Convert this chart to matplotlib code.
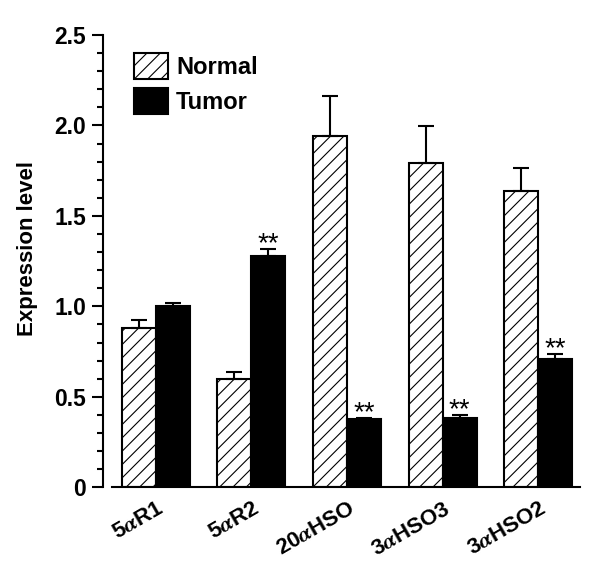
import numpy as np
import matplotlib
matplotlib.use('Agg')
import matplotlib.pyplot as plt
from matplotlib.patches import Patch
import matplotlib.transforms as mtransforms

# saved at dpi 80 so the '//' hatch comes out a bit denser; sizes below are
# written for 100 dpi and scaled by S
DPI = 80
S = 100 / DPI

plt.rcParams['font.family'] = ['Liberation Sans', 'DejaVu Sans']
plt.rcParams['font.weight'] = 'bold'
plt.rcParams['mathtext.fontset'] = 'stix'
plt.rcParams['hatch.linewidth'] = 0.8 * S

genes = ['5$\\alpha$R1', '5$\\alpha$R2', '20$\\alpha$HSO', '3$\\alpha$HSO3', '3$\\alpha$HSO2']
normal = [0.88, 0.60, 1.94, 1.79, 1.635]
normal_err = [0.043, 0.037, 0.22, 0.205, 0.13]
tumor = [1.0, 1.278, 0.375, 0.383, 0.708]
tumor_err = [0.016, 0.04, 0.008, 0.017, 0.026]
signif = ['', '**', '**', '**', '**']

fig = plt.figure(figsize=(600 / DPI, 569 / DPI), dpi=DPI)
ax = fig.add_axes([0.171, 0.1436, 0.796, 0.795])

x = np.arange(len(genes))
w = 0.356
zeros = np.zeros(len(x))
ekw = dict(ecolor='black', elinewidth=1.5 * S, capsize=6 * S, capthick=1.5 * S)

ax.bar(x, normal, width=-w, align='edge', color='white', edgecolor='black',
       hatch='//', linewidth=1.5 * S, yerr=[zeros, normal_err], error_kw=ekw)
ax.bar(x, tumor, width=w, align='edge', color='black', edgecolor='black',
       linewidth=1.5 * S, yerr=[zeros, tumor_err], error_kw=ekw)

for i, s in enumerate(signif):
    if s:
        ax.annotate(s, (x[i] + w / 2, tumor[i] + tumor_err[i]), xytext=(0, -1.5 * S),
                    textcoords='offset points', ha='center', va='baseline',
                    fontsize=20 * S, fontweight='normal')

ax.set_xlim(-0.558, 4.44)
ax.set_ylim(0, 2.5)
ax.spines['top'].set_visible(False)
ax.spines['right'].set_visible(False)
ax.spines['left'].set_linewidth(1.5 * S)
ax.spines['bottom'].set_linewidth(1.5 * S)
ax.spines['bottom'].set_bounds(-0.464, 4.44)

ax.set_yticks([0, 0.5, 1.0, 1.5, 2.0, 2.5])
ax.set_yticklabels(['0', '0.5', '1.0', '1.5', '2.0', '2.5'])
ax.set_yticks(np.arange(0, 2.51, 0.1), minor=True)
ax.tick_params(axis='y', which='major', length=8 * S, width=1.5 * S, labelsize=16.5 * S, pad=4 * S)
ax.tick_params(axis='y', which='minor', length=4.3 * S, width=1.5 * S)

ax.set_xticks(x)
ax.set_xticklabels(genes, rotation=30, ha='right', rotation_mode='anchor', fontsize=16 * S)
ax.tick_params(axis='x', length=0, pad=8 * S)
offset = mtransforms.ScaledTranslation(1 / DPI, 0, fig.dpi_scale_trans)
for lab in ax.get_xticklabels():
    lab.set_transform(lab.get_transform() + offset)

ax.set_ylabel('Expression level', fontsize=16 * S, fontweight='bold')
ax.yaxis.set_label_coords(-0.136, 0.527)

handles = [Patch(facecolor='white', edgecolor='black', hatch='//', linewidth=1.5 * S),
           Patch(facecolor='black', edgecolor='black', linewidth=1.5 * S)]
ax.legend(handles, ['Normal', 'Tumor'], loc='upper left', bbox_to_anchor=(0.0656, 0.96),
          frameon=False, fontsize=17 * S, handlelength=1.44, handleheight=1.3,
          handletextpad=0.34, labelspacing=0.38, borderpad=0, borderaxespad=0)

fig.savefig('out.png', dpi=DPI)
